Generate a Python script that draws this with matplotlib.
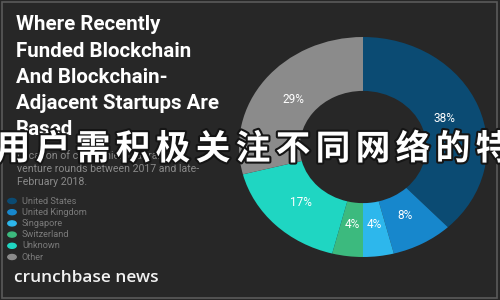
import matplotlib.pyplot as plt
import matplotlib.patheffects as pe

# data
countries = ["United States", "United Kingdom", "Singapore",
             "Switzerland", "Unknown", "Other"]
shares = [38, 8, 4, 4, 17, 29]
colors = ["#0b4b73", "#1787cc", "#2db7ec", "#3cba7e", "#1fd6c2", "#8b8b8b"]

title_lines = ["Where Recently", "Funded Blockchain", "And Blockchain-",
               "Adjacent Startups Are", "Based"]
subtitle_lines = ["Location of companies that raised",
                  "venture rounds between 2017 and late-",
                  "February 2018."]
overlay = "用户需积极关注不同网络的特"

BG = "#272727"
W, H = 500, 300

fig = plt.figure(figsize=(5, 3), dpi=100, facecolor=BG)


def px(x, y):
    # pixel coords (top-left origin) -> figure fraction
    return x / W, 1 - y / H


# donut, slightly stretched horizontally like the source image
ax = fig.add_axes([239 / W, 1 - 257 / H, 248 / W, 220 / H])
ax.set_facecolor(BG)
wedges, texts, autotexts = ax.pie(
    shares, colors=colors, startangle=90, counterclock=False,
    wedgeprops=dict(width=0.49, linewidth=0),
    autopct="%d%%", pctdistance=0.71,
    textprops=dict(color="white", fontsize=8.5, family="Roboto"),
)
ax.set_xlim(-1, 1)
ax.set_ylim(-1, 1)
ax.set_aspect("auto")
ax.axis("off")

# title
for i, line in enumerate(title_lines):
    x, y = px(16, 25 + i * 26.2)
    fig.text(x, y, line, color="white", fontsize=14.8, family="Roboto",
             weight="bold", va="center", ha="left")

# subtitle
for i, line in enumerate(subtitle_lines):
    x, y = px(17, 156 + i * 13)
    fig.text(x, y, line, color="#8a8a8a", fontsize=7.6, family="Roboto",
             va="center", ha="left")

# legend
for i, (name, c) in enumerate(zip(countries, colors)):
    y0 = 201 + i * 11.2
    fig.patches.append(plt.Circle(px(12, y0), 4.2 / W, color=c,
                                  transform=fig.transFigure))
    x, y = px(22, y0)
    fig.text(x, y, name, color="#7a7a7a", fontsize=6.6, family="Roboto",
             va="center", ha="left")

# brand
x, y = px(14, 278)
fig.text(x, y, "crunchbase news", color="#f2f2f2", fontsize=12.4,
         family="Open Sans", weight="semibold", va="center", ha="left")

# overlay chinese text, one glyph at a time
for i, ch in enumerate(overlay):
    x, y = px(13 + i * 40, 149)
    fig.text(x, y, ch, color="white", fontsize=25,
             family=["Noto Sans CJK SC", "DejaVu Sans"], weight="bold",
             va="center", ha="center",
             path_effects=[pe.withStroke(linewidth=3, foreground="#151515")])

# thin frame around the screenshot
frame = plt.Rectangle((2 / W, 2 / H), 495 / W, 296 / H, fill=False,
                      edgecolor="#5a5a5a", linewidth=1.2,
                      transform=fig.transFigure)
fig.patches.append(frame)

fig.savefig("out.png", dpi=100, facecolor=BG)
